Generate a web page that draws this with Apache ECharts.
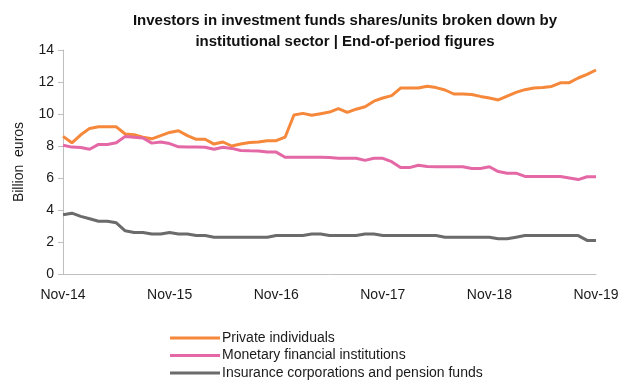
<!DOCTYPE html>
<html>
<head>
<meta charset="utf-8">
<script src="https://cdn.jsdelivr.net/npm/echarts@6/dist/echarts.min.js"></script>
<style>
  html, body { margin: 0; padding: 0; background: #ffffff; }
  #chart { width: 624px; height: 385px; }
</style>
</head>
<body>
<div id="chart"></div>
<script>
// Month labels, Nov-14 to Nov-19
const months = [];
(function () {
  const names = ['Jan','Feb','Mar','Apr','May','Jun','Jul','Aug','Sep','Oct','Nov','Dec'];
  let m = 10, y = 14;
  for (let i = 0; i < 61; i++) {
    months.push(names[m] + '-' + y);
    m++;
    if (m === 12) { m = 0; y++; }
  }
})();

// Billion euros, end-of-period
const privateIndividuals = [
  8.6, 8.2, 8.7, 9.1, 9.2, 9.2, 9.2, 8.75, 8.7, 8.55, 8.45, 8.65,
  8.85, 8.95, 8.65, 8.42, 8.42, 8.12, 8.25, 8.0, 8.12, 8.22, 8.25, 8.33,
  8.33, 8.55, 9.94, 10.04, 9.92, 10.02, 10.12, 10.33, 10.1, 10.3, 10.45, 10.8,
  11.0, 11.15, 11.62, 11.62, 11.62, 11.73, 11.65, 11.5, 11.25, 11.25, 11.22, 11.1,
  11.0, 10.88, 11.12, 11.35, 11.52, 11.62, 11.65, 11.72, 11.95, 11.96, 12.25, 12.48,
  12.75
];
const monetaryInstitutions = [
  8.05, 7.93, 7.9, 7.8, 8.1, 8.1, 8.2, 8.6, 8.55, 8.5, 8.18, 8.25,
  8.15, 7.95, 7.93, 7.93, 7.92, 7.8, 7.92, 7.85, 7.72, 7.7, 7.69, 7.62,
  7.62, 7.3, 7.3, 7.3, 7.3, 7.3, 7.28, 7.23, 7.23, 7.23, 7.1, 7.23,
  7.23, 7.02, 6.65, 6.65, 6.8, 6.72, 6.71, 6.71, 6.71, 6.7, 6.6, 6.6,
  6.7, 6.4, 6.3, 6.3, 6.1, 6.1, 6.1, 6.1, 6.1, 6.0, 5.9, 6.08,
  6.08
];
const insurancePension = [
  3.7, 3.8, 3.6, 3.45, 3.3, 3.3, 3.2, 2.7, 2.6, 2.6, 2.5, 2.5,
  2.6, 2.5, 2.5, 2.4, 2.4, 2.3, 2.3, 2.3, 2.3, 2.3, 2.3, 2.3,
  2.4, 2.4, 2.4, 2.4, 2.5, 2.5, 2.4, 2.4, 2.4, 2.4, 2.5, 2.5,
  2.4, 2.4, 2.4, 2.4, 2.4, 2.4, 2.4, 2.3, 2.3, 2.3, 2.3, 2.3,
  2.3, 2.2, 2.2, 2.3, 2.4, 2.4, 2.4, 2.4, 2.4, 2.4, 2.4, 2.1,
  2.1
];

const FONT = 'Liberation Sans, Arial, sans-serif';
const chart = echarts.init(document.getElementById('chart'), null, { renderer: 'canvas' });

function lineSeries(name, data, color) {
  return {
    name: name,
    type: 'line',
    data: data,
    symbol: 'none',
    lineStyle: { color: color, width: 3 },
    itemStyle: { color: color },
    animation: false
  };
}

chart.setOption({
  animation: false,
  backgroundColor: '#ffffff',
  title: {
    text: 'Investors in investment funds shares/units broken down by\ninstitutional sector | End-of-period figures',
    left: 340,
    textAlign: 'center',
    top: 5,
    textStyle: { fontFamily: FONT, fontSize: 15, fontWeight: 'bold', color: '#111111', lineHeight: 21 }
  },
  legend: {
    orient: 'vertical',
    left: 170,
    top: 331,
    height: 60,
    padding: 0,
    itemWidth: 50,
    itemHeight: 3,
    itemGap: 3.5,
    icon: 'rect',
    textStyle: { fontFamily: FONT, fontSize: 14, color: '#1a1a1a', padding: [0, 0, 0, -3] },
    data: ['Private individuals', 'Monetary financial institutions', 'Insurance corporations and pension funds']
  },
  grid: { left: 63, right: 28, top: 50, bottom: 111, containLabel: false },
  xAxis: {
    type: 'category',
    data: months,
    boundaryGap: false,
    axisLine: { lineStyle: { color: '#bfbfbf', width: 1 } },
    axisTick: { show: false },
    axisLabel: { interval: 11, fontFamily: FONT, fontSize: 14, color: '#1a1a1a', margin: 14 },
    splitLine: { show: false }
  },
  yAxis: {
    type: 'value',
    min: 0,
    max: 14,
    interval: 2,
    name: 'Billion  euros',
    nameLocation: 'middle',
    nameGap: 37,
    nameTextStyle: { fontFamily: FONT, fontSize: 14, color: '#1a1a1a' },
    axisLine: { show: true, lineStyle: { color: '#bfbfbf', width: 1 } },
    axisTick: { show: true, length: 5, lineStyle: { color: '#bfbfbf' } },
    axisLabel: { fontFamily: FONT, fontSize: 14, color: '#1a1a1a', margin: 9 },
    splitLine: { show: false }
  },
  series: [
    lineSeries('Private individuals', privateIndividuals, '#f5883a'),
    lineSeries('Monetary financial institutions', monetaryInstitutions, '#e468a5'),
    lineSeries('Insurance corporations and pension funds', insurancePension, '#6b6b6b')
  ]
});
</script>
</body>
</html>
